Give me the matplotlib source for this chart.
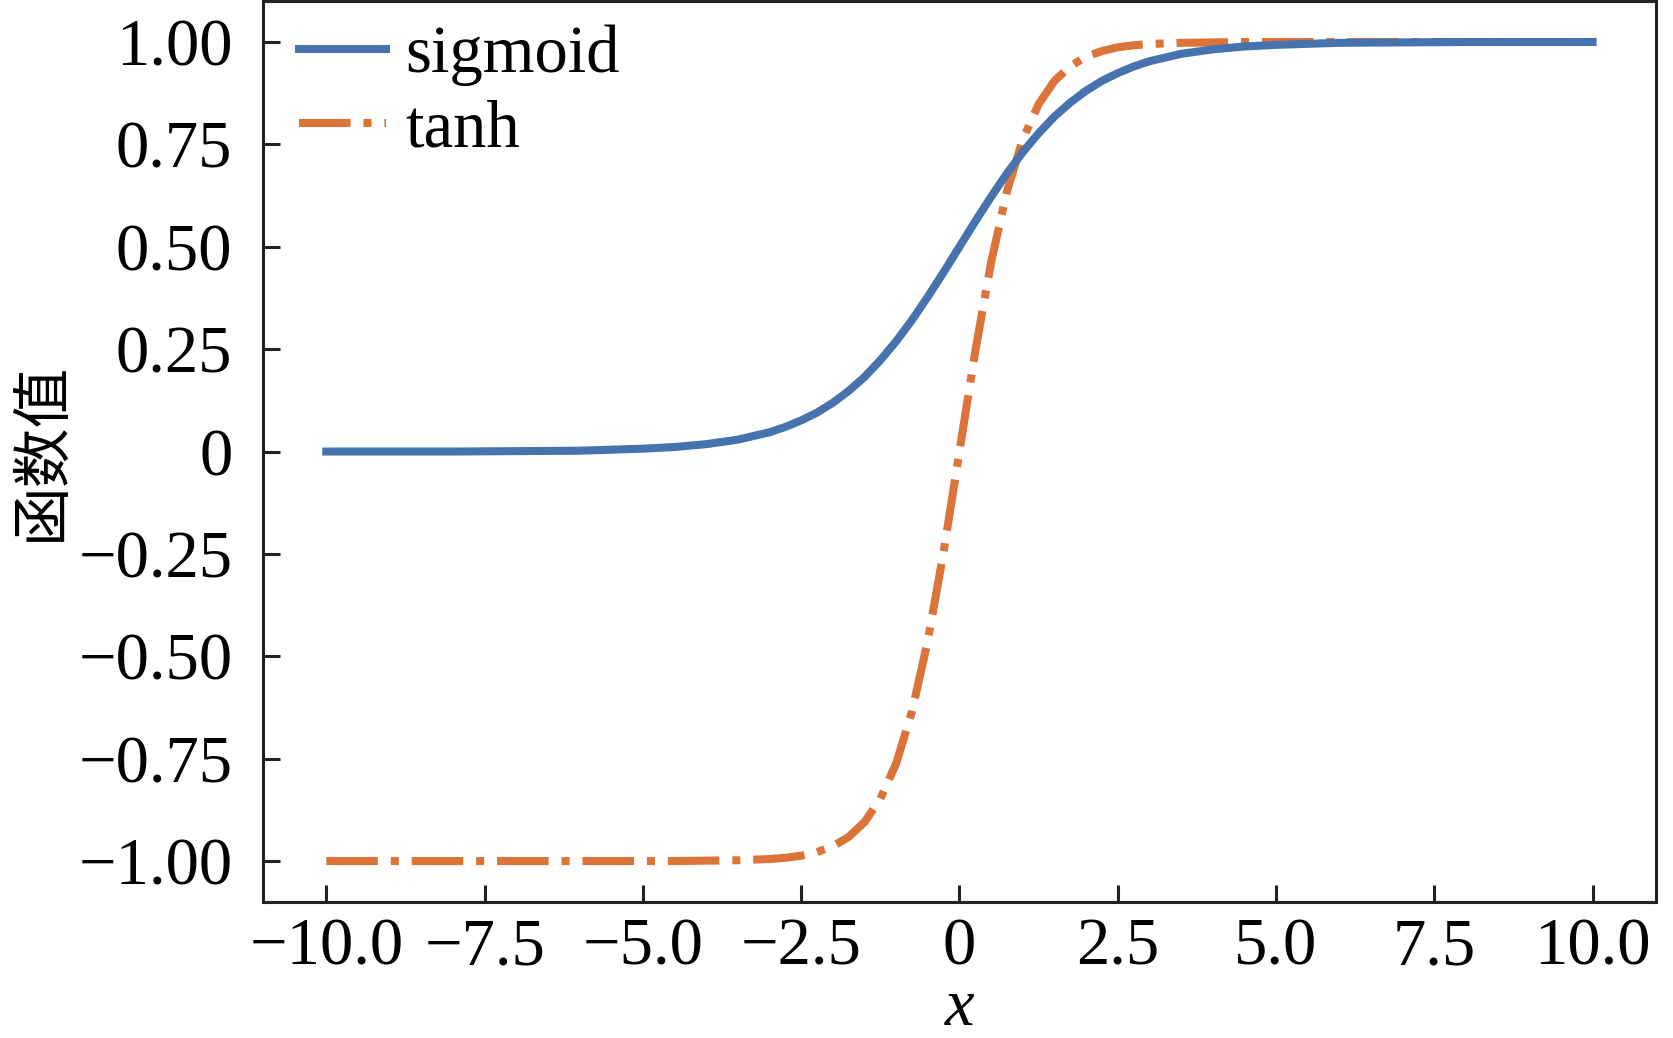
import matplotlib
matplotlib.use('Agg')
import matplotlib.pyplot as plt
from matplotlib.ticker import FuncFormatter

plt.rcParams['font.family'] = ['Liberation Serif', 'Noto Sans CJK SC', 'DejaVu Sans']
plt.rcParams['axes.unicode_minus'] = True

# values
x_vals = [-10, -9, -8, -7, -6, -5, -4.5, -4, -3.5, -3, -2.75, -2.5, -2.25, -2,
          -1.75, -1.5, -1.25, -1, -0.75, -0.5, -0.25, 0, 0.25, 0.5, 0.75, 1,
          1.25, 1.5, 1.75, 2, 2.25, 2.5, 2.75, 3, 3.5, 4, 4.5, 5, 6, 7, 8, 9, 10]
sigmoid_vals = [0.000, 0.000, 0.000, 0.001, 0.002, 0.007, 0.011, 0.018, 0.029, 0.047,
                0.060, 0.076, 0.095, 0.119, 0.148, 0.182, 0.223, 0.269, 0.321, 0.378,
                0.438, 0.500, 0.562, 0.622, 0.679, 0.731, 0.777, 0.818, 0.852, 0.881,
                0.905, 0.924, 0.940, 0.953, 0.971, 0.982, 0.989, 0.993, 0.998, 0.999,
                1.000, 1.000, 1.000]
tanh_vals = [-1.000, -1.000, -1.000, -1.000, -1.000, -1.000, -1.000, -0.999, -0.998, -0.995,
             -0.992, -0.987, -0.978, -0.964, -0.941, -0.905, -0.848, -0.762, -0.635, -0.462,
             -0.245, 0.000, 0.245, 0.462, 0.635, 0.762, 0.848, 0.905, 0.941, 0.964,
             0.978, 0.987, 0.992, 0.995, 0.998, 0.999, 1.000, 1.000, 1.000, 1.000,
             1.000, 1.000, 1.000]
series_names = ['sigmoid', 'tanh']
x_ticks = [-10.0, -7.5, -5.0, -2.5, 0, 2.5, 5.0, 7.5, 10.0]
y_ticks = [-1.00, -0.75, -0.50, -0.25, 0, 0.25, 0.50, 0.75, 1.00]

fig = plt.figure(figsize=(16.74, 10.38), dpi=100)
ax = fig.add_axes([0.1571, 0.1310, 0.8321, 0.8680])

ax.plot(x_vals, sigmoid_vals, color='#4672ae', lw=5.8, label=series_names[0], zorder=3)
ax.plot(x_vals, tanh_vals, color='#dc7439', lw=5.8, ls='-.', label=series_names[1], zorder=2)

ax.set_xlim(-11, 11)
ax.set_ylim(-1.1, 1.1)
ax.set_xticks(x_ticks)
ax.set_yticks(y_ticks)
ax.xaxis.set_major_formatter(FuncFormatter(lambda v, p: '0' if v == 0 else f'{v:.1f}'.replace('-', '\u2212')))
ax.yaxis.set_major_formatter(FuncFormatter(lambda v, p: '0' if v == 0 else f'{v:.2f}'.replace('-', '\u2212')))

for s in ax.spines.values():
    s.set_linewidth(2.2)
    s.set_color('#222222')
ax.tick_params(direction='in', length=12, width=2.2, labelsize=48, color='#222222')
ax.tick_params(axis='x', pad=11)
ax.tick_params(axis='y', pad=22)

ax.set_xlabel('x', fontsize=48, fontstyle='italic', labelpad=0)
ax.set_ylabel('函数值', fontsize=43, family=['Noto Sans CJK SC'], labelpad=4)

ax.legend(loc='upper left', bbox_to_anchor=(0.009, 1.0), frameon=False, fontsize=48,
          handlelength=1.3, handletextpad=0.3, labelspacing=0.2, borderaxespad=0.3,
          borderpad=0.05)

fig.savefig('out.png', dpi=100)
